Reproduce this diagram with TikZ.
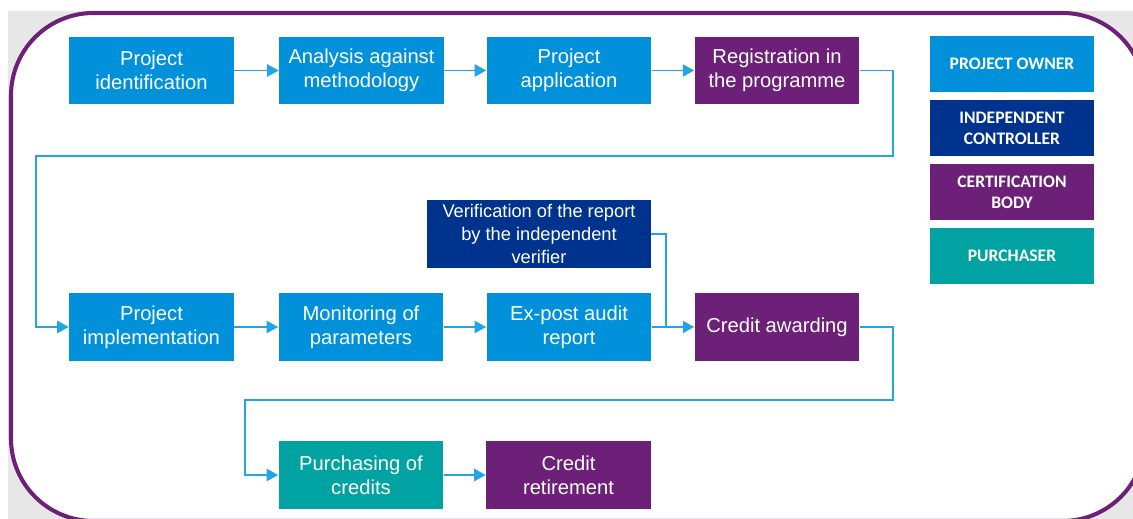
\documentclass[tikz,border=0pt]{standalone}
\usepackage{fontspec}
\setmainfont{Liberation Sans}
\newfontfamily\legendfont{Carlito}
\usepackage{xcolor}
\usetikzlibrary{arrows.meta, positioning}
\definecolor{ownerblue}{RGB}{0, 145, 218}
\definecolor{controllerblue}{RGB}{0, 51, 141}
\definecolor{certpurple}{RGB}{109, 32, 119}
\definecolor{buyerteal}{RGB}{0, 163, 161}
\definecolor{flowblue}{RGB}{36, 164, 226}
\definecolor{framegray}{RGB}{231, 231, 231}

\begin{document}
\begin{tikzpicture}[x=0.02cm, y=-0.02cm,
    stepbox/.style={minimum width=3.3cm, minimum height=1.35cm, inner sep=1pt, align=center,
        text=white, font=\fontsize{11.5}{13.6}\selectfont},
    ownerbox/.style={stepbox, fill=ownerblue},
    controllerbox/.style={stepbox, fill=controllerblue},
    certbox/.style={stepbox, fill=certpurple},
    buyerbox/.style={stepbox, fill=buyerteal},
    legendbox/.style={minimum width=3.28cm, minimum height=1.12cm, inner sep=1pt, align=center,
        text=white, font=\legendfont\bfseries\fontsize{10}{12}\selectfont},
    flowline/.style={flowblue, line width=0.7pt},
    flow/.style={flowline, -{Triangle[length=6.5pt, width=7pt]}}]

    % Frame
    \useasboundingbox (0,0) rectangle (1133,519);
    \begin{scope}
        \clip (0,0) rectangle (1133,519);
        \fill[framegray] (8,11) rectangle (1133,519);
        \draw[certpurple, line width=2.3pt, fill=white, rounded corners=1.65cm] (11,13) rectangle (1145,521);
    \end{scope}

    % First row
    \node[ownerbox] (ident) at (151.5, 70.5) {Project\\identification};
    \node[ownerbox] (analysis) at (361.5, 70.5) {Analysis against\\methodology};
    \node[ownerbox] (application) at (569, 70.5) {Project\\application};
    \node[certbox] (registration) at (777, 70.5) {Registration in\\the programme};

    % Second row
    \node[ownerbox] (implement) at (151.5, 327) {Project\\implementation};
    \node[ownerbox] (monitor) at (361, 327) {Monitoring of\\parameters};
    \node[ownerbox] (audit) at (569, 327) {Ex-post audit\\report};
    \node[certbox] (awarding) at (777, 327) {Credit awarding};
    \node[controllerbox, minimum width=4.48cm, font=\fontsize{10.4}{13}\selectfont] (verify) at (539, 234)
        {Verification of the report\\by the independent\\verifier};

    % Third row
    \node[buyerbox] (purchase) at (361, 475) {Purchasing of\\credits};
    \node[certbox] (retire) at (568.5, 475) {Credit\\retirement};

    % Legend
    \node[legendbox, fill=ownerblue] (legowner) at (1012, 64) {PROJECT OWNER};
    \node[legendbox, fill=controllerblue] (legcontrol) at (1012, 128) {INDEPENDENT\\CONTROLLER};
    \node[legendbox, fill=certpurple] (legcert) at (1012, 192) {CERTIFICATION\\BODY};
    \node[legendbox, fill=buyerteal] (legbuyer) at (1012, 256) {PURCHASER};

    % Bends of the connectors
    \coordinate (bendA) at (893, 156);
    \coordinate (bendB) at (36, 156);
    \coordinate (bendC) at (893, 400);
    \coordinate (bendD) at (245, 400);
    \coordinate (merge) at (666, 327);

    % Connectors
    \draw[flow] (ident) -- (analysis);
    \draw[flow] (analysis) -- (application);
    \draw[flow] (application) -- (registration);
    \draw[flow] (registration.east) -| (bendA) -- (bendB) |- (implement.west);
    \draw[flow] (implement) -- (monitor);
    \draw[flow] (monitor) -- (audit);
    \draw[flow] (audit) -- (awarding);
    \draw[flowline] (verify.east) -| (merge);
    \draw[flow] (awarding.east) -| (bendC) -- (bendD) |- (purchase.west);
    \draw[flow] (purchase) -- (retire);

\end{tikzpicture}
\end{document}
